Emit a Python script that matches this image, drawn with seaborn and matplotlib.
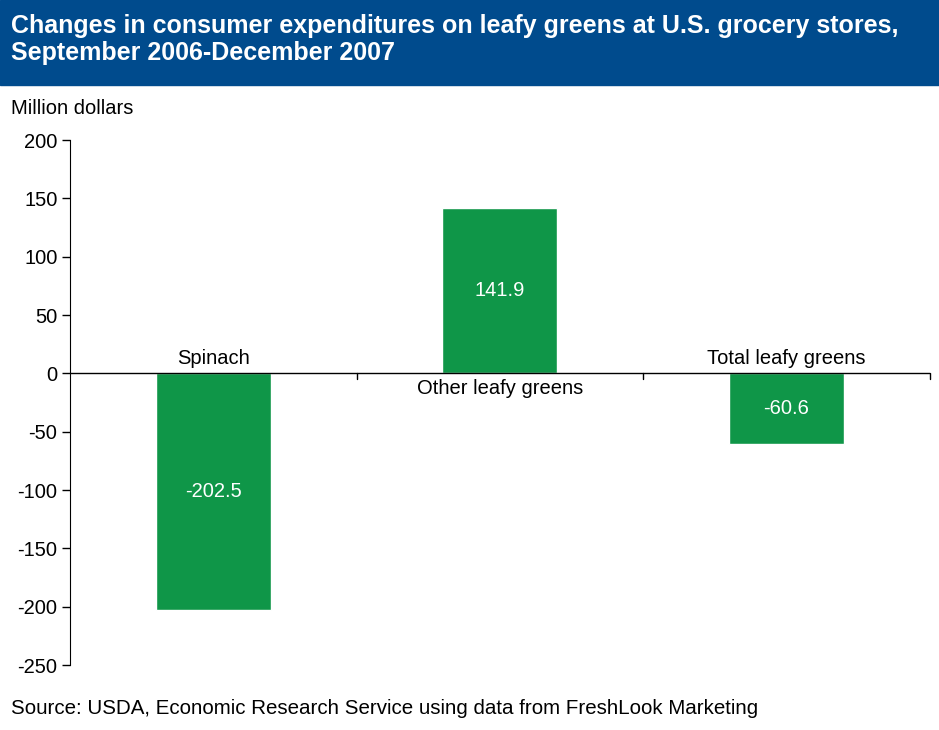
import matplotlib
matplotlib.use("Agg")
import matplotlib.pyplot as plt
import seaborn as sns
import pandas as pd

categories = ["Spinach", "Other leafy greens", "Total leafy greens"]
values = [-202.5, 141.9, -60.6]
yticks = [200, 150, 100, 50, 0, -50, -100, -150, -200, -250]

sns.set_style("white")
plt.rcParams["font.family"] = ["Liberation Sans", "DejaVu Sans"]
plt.rcParams["text.color"] = "black"
plt.rcParams["ytick.color"] = "black"

df = pd.DataFrame({"cat": categories, "val": values})
fig = plt.figure(figsize=(9.39, 7.30), dpi=100)
ax = fig.add_axes([0.0745, 0.089, 0.9155, 0.719])
sns.barplot(data=df, x="cat", y="val", color="#0f9648", saturation=1, width=0.4, ax=ax)

ax.set_ylim(-250, 200)
ax.set_xlim(-0.5, 2.5)
ax.set_yticks(yticks)
ax.set_yticklabels([str(t) for t in yticks], fontsize=14.5)
ax.tick_params(axis="y", length=6, width=1, color="black", left=True, pad=3)
ax.set_xticks([])
ax.set_xlabel("")
ax.set_ylabel("")
for s in ["top", "right", "bottom"]:
    ax.spines[s].set_visible(False)
ax.spines["left"].set_color("black")
ax.axhline(0, color="black", lw=1)
for xb in [0.5, 1.5, 2.5]:
    ax.plot([xb, xb], [0, -5], color="black", lw=1, clip_on=False)

for i, (c, v) in enumerate(zip(categories, values)):
    ax.text(i, v / 2, f"{v:.1f}", color="white", ha="center", va="center", fontsize=14.5)
    if v < 0:
        ax.text(i, 5, c, ha="center", va="bottom", fontsize=14.5)
    else:
        ax.text(i, -5, c, ha="center", va="top", fontsize=14.5)

fig.patches.append(plt.Rectangle((0, 1 - 85 / 730), 1, 85 / 730, transform=fig.transFigure,
                                 color="#004b8d", zorder=0))
fig.text(0.012, 1 - 14 / 730, "Changes in consumer expenditures on leafy greens at U.S. grocery stores,\nSeptember 2006-December 2007",
         color="white", fontsize=18, fontweight="bold", va="top", ha="left", linespacing=1.15)
fig.text(0.012, 1 - 109 / 730, "Million dollars", fontsize=14.5, va="center")
fig.text(0.012, 12 / 730, "Source: USDA, Economic Research Service using data from FreshLook Marketing",
         fontsize=14.8, va="bottom")

fig.savefig("out.png", dpi=100)
